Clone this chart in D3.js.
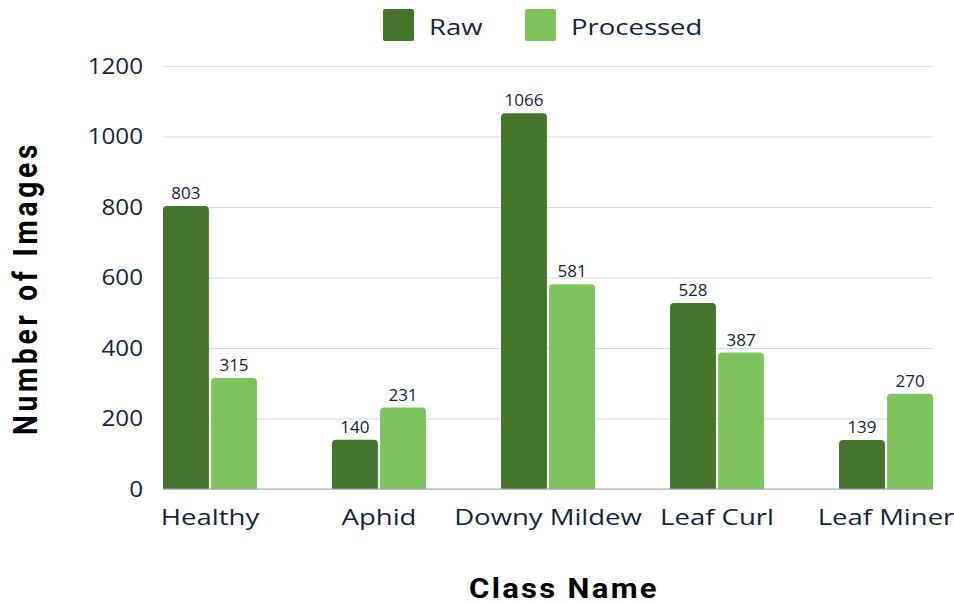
<!DOCTYPE html>
<html>
<head>
<meta charset="utf-8">
<script src="https://cdn.jsdelivr.net/npm/d3@7"></script>
<style>
  body { margin: 0; background: #fff; }
  text { font-family: "Open Sans", sans-serif; }
</style>
</head>
<body>
<div id="chart"></div>
<script>
var categories = ["Healthy", "Aphid", "Downy Mildew", "Leaf Curl", "Leaf Miner"];
var seriesNames = ["Raw", "Processed"];
var rawValues = [803, 140, 1066, 528, 139];
var processedValues = [315, 231, 581, 387, 270];
var yTicks = [0, 200, 400, 600, 800, 1000, 1200];

var colors = { "Raw": "#44752a", "Processed": "#7dc35b" };
var textColor = "#14263a";

var W = 954, H = 604;
var margin = { top: 66, right: 21, bottom: 115, left: 163 },
    width = W - margin.left - margin.right,
    height = H - margin.top - margin.bottom;

// the original looks horizontally stretched, so text is widened a bit
var wideX = 1.25, tickX = 1.1;

var svg = d3.select("#chart").append("svg")
    .attr("width", W)
    .attr("height", H);

var g = svg.append("g")
    .attr("transform", "translate(" + margin.left + "," + margin.top + ")");

var x0 = d3.scaleBand()
    .domain(categories)
    .range([0, width])
    .paddingInner(0.444)
    .paddingOuter(0);
var x1 = d3.scaleBand()
    .domain(seriesNames)
    .range([0, x0.bandwidth()])
    .paddingInner(0.045);
var y = d3.scaleLinear()
    .domain([0, 1200])
    .range([height, 0]);

// gridlines
g.append("g")
    .call(d3.axisLeft(y).tickValues(yTicks).tickSize(-width).tickFormat(""))
    .call(function (a) { a.select(".domain").remove(); })
    .selectAll(".tick line")
    .attr("stroke", "#d5dbe0")
    .attr("stroke-width", 1.2);

// y tick labels
g.append("g")
    .call(d3.axisLeft(y).tickValues(yTicks).tickSize(0).tickPadding(20).tickFormat(d3.format("d")))
    .call(function (a) { a.select(".domain").remove(); })
    .selectAll(".tick text")
    .attr("x", -20 / tickX)
    .attr("transform", "scale(" + tickX + ",1)")
    .attr("fill", textColor)
    .style("font-size", "22px")
    .style("font-family", "'Open Sans', sans-serif");

var data = categories.map(function (c, i) {
    return { cat: c, values: [
        { key: "Raw", value: rawValues[i] },
        { key: "Processed", value: processedValues[i] }
    ] };
});

function topRounded(xp, yp, w, h, r) {
    r = Math.min(r, h);
    return "M" + xp + "," + (yp + h) +
        "V" + (yp + r) +
        "Q" + xp + "," + yp + " " + (xp + r) + "," + yp +
        "H" + (xp + w - r) +
        "Q" + (xp + w) + "," + yp + " " + (xp + w) + "," + (yp + r) +
        "V" + (yp + h) + "Z";
}

var groups = g.selectAll(".grp")
    .data(data)
    .enter().append("g")
    .attr("class", "grp")
    .attr("transform", function (d) { return "translate(" + x0(d.cat) + ",0)"; });

groups.selectAll("path")
    .data(function (d) { return d.values; })
    .enter().append("path")
    .attr("fill", function (d) { return colors[d.key]; })
    .attr("d", function (d) {
        return topRounded(x1(d.key), y(d.value), x1.bandwidth(), height - y(d.value), 4);
    });

groups.selectAll(".lbl")
    .data(function (d) { return d.values; })
    .enter().append("text")
    .attr("class", "lbl")
    .attr("x", function (d) { return x1(d.key) + x1.bandwidth() / 2; })
    .attr("y", function (d) { return y(d.value) - 7; })
    .attr("text-anchor", "middle")
    .attr("fill", textColor)
    .style("font-size", "17px")
    .text(function (d) { return d.value; });

// baseline
g.append("line")
    .attr("x1", 0).attr("x2", width)
    .attr("y1", height).attr("y2", height)
    .attr("stroke", "#9aa5b1")
    .attr("stroke-width", 1.2);

// x labels
g.append("g")
    .attr("transform", "translate(0," + height + ")")
    .call(d3.axisBottom(x0).tickSize(0).tickPadding(20))
    .call(function (a) { a.select(".domain").remove(); })
    .selectAll(".tick text")
    .attr("transform", "scale(" + wideX + ",1)")
    .attr("fill", textColor)
    .style("font-size", "22px")
    .style("font-family", "'Open Sans', sans-serif");

// axis titles
svg.append("text")
    .attr("transform", "translate(37,288) rotate(-90) scale(1,1.2)")
    .attr("text-anchor", "middle")
    .style("font-family", "Roboto, sans-serif")
    .style("font-size", "28px")
    .style("font-weight", "700")
    .style("letter-spacing", "3.8px")
    .attr("fill", "#000")
    .text("Number of Images");

svg.append("text")
    .attr("transform", "translate(564,598) scale(1.15,1)")
    .attr("text-anchor", "middle")
    .style("font-family", "Roboto, sans-serif")
    .style("font-size", "27px")
    .style("font-weight", "700")
    .style("letter-spacing", "2px")
    .attr("fill", "#000")
    .text("Class Name");

// legend
var legendX = [383, 525];
var legend = svg.selectAll(".leg")
    .data(seriesNames)
    .enter().append("g")
    .attr("class", "leg")
    .attr("transform", function (d, i) { return "translate(" + legendX[i] + ",9)"; });
legend.append("rect")
    .attr("width", 31).attr("height", 32)
    .attr("rx", 2)
    .attr("fill", function (d) { return colors[d]; });
legend.append("text")
    .attr("transform", "translate(46,26) scale(" + wideX + ",1)")
    .attr("fill", textColor)
    .style("font-size", "22px")
    .text(function (d) { return d; });
</script>
</body>
</html>
